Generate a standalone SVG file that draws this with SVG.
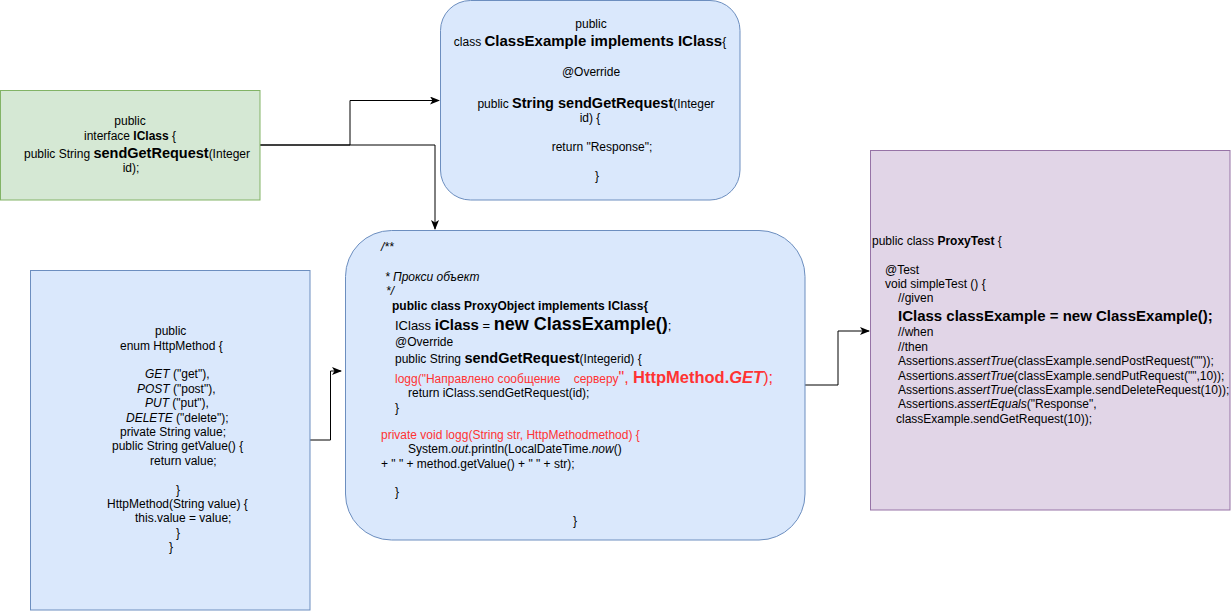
<svg xmlns="http://www.w3.org/2000/svg" width="1232" height="611" viewBox="0 0 1232 611">
<style>
text{font-family:"Liberation Sans",Arial,Helvetica,sans-serif;font-size:12px;fill:#000;white-space:pre}
.m{text-anchor:middle}
.b{font-weight:bold}
.i{font-style:italic}
.r{fill:#FF3333}
.line{fill:none;stroke:#000;stroke-width:1}
</style>
<defs>
<marker id="arr" viewBox="0 0 10 8" refX="9" refY="4" markerWidth="10" markerHeight="8" markerUnits="userSpaceOnUse" orient="auto">
<path d="M0,0 L10,4 L0,8 L2.5,4 z" fill="#000"/>
</marker>
</defs>
<rect width="1232" height="611" fill="#fff"/>
<g id="connectors">
<polyline class="line" points="260,145 350,145 350,100.5 439,100.5" marker-end="url(#arr)"/>
<polyline class="line" points="260,145 435,145 435,229" marker-end="url(#arr)"/>
<polyline class="line" points="310,440 330.5,440 330.5,371 341,371" marker-end="url(#arr)"/>
<polyline class="line" points="805,385 838,385 838,331 869,331" marker-end="url(#arr)"/>
</g>
<g id="iclass">
<rect x="0.5" y="90.5" width="259.5" height="109.5" fill="#d5e8d4" stroke="#82b366"/>
<text class="m" x="130" y="125">public</text>
<text class="m" x="130" y="140">interface <tspan class="b">IClass</tspan> {</text>
<text class="m" x="137" y="158">public String <tspan class="b" style="font-size:14.5px">sendGetRequest</tspan>(Integer</text>
<text class="m" x="131" y="172">id);</text>
</g>
<g id="classexample">
<rect x="440.5" y="0.5" width="299.5" height="199.5" rx="30" ry="30" fill="#dae8fc" stroke="#6c8ebf"/>
<text class="m" x="591" y="28">public</text>
<text class="m" x="590" y="46">class <tspan class="b" style="font-size:15px">ClassExample implements IClass</tspan>{</text>
<text class="m" x="591" y="76">@Override</text>
<text class="m" x="596" y="108">public <tspan class="b" style="font-size:14.5px">String sendGetRequest</tspan>(Integer</text>
<text class="m" x="590" y="122">id) {</text>
<text class="m" x="602" y="151">return "Response";</text>
<text class="m" x="597" y="180">}</text>
</g>
<g id="httpmethod">
<rect x="30.5" y="270.5" width="279.5" height="339.5" fill="#dae8fc" stroke="#6c8ebf"/>
<text x="155" y="335">public</text>
<text x="120" y="349.5">enum HttpMethod {</text>
<text x="145" y="378"><tspan class="i">GET</tspan> ("get"),</text>
<text x="137" y="392.5"><tspan class="i">POST</tspan> ("post"),</text>
<text x="145" y="407"><tspan class="i">PUT</tspan> ("put"),</text>
<text x="126" y="421.5"><tspan class="i">DELETE</tspan> ("delete");</text>
<text x="120" y="436">private String value;</text>
<text x="112" y="450">public String getValue() {</text>
<text x="150" y="464.5">return value;</text>
<text x="176" y="493.5">}</text>
<text x="107" y="508">HttpMethod(String value) {</text>
<text x="135" y="522">this.value = value;</text>
<text x="176" y="536.5">}</text>
<text x="169" y="551">}</text>
</g>
<g id="proxyobject">
<rect x="345.5" y="230.5" width="459.5" height="309.5" rx="46" ry="46" fill="#dae8fc" stroke="#6c8ebf"/>
<text class="i" x="381" y="251">/**</text>
<text class="i" x="385" y="281">* Прокси объект</text>
<text class="i" x="386" y="295">*/</text>
<text class="b" x="392" y="310">public class ProxyObject implements IClass{</text>
<text x="395" y="330" style="font-size:13px">IClass <tspan class="b" style="font-size:15px">iClass</tspan> = <tspan class="b" style="font-size:18px">new ClassExample()</tspan>;</text>
<text x="395" y="346">@Override</text>
<text x="395" y="363">public String <tspan class="b" style="font-size:14.5px">sendGetRequest</tspan>(Integerid) {</text>
<text class="r" x="395" y="383">logg("Направлено сообщение    серверу<tspan style="font-size:16px">", </tspan><tspan class="b" style="font-size:16.5px">HttpMethod.<tspan class="i">GET</tspan></tspan><tspan style="font-size:16px">);</tspan></text>
<text x="408" y="397">return iClass.sendGetRequest(id);</text>
<text x="395" y="412">}</text>
<text class="r" x="381" y="439">private void logg(String str, HttpMethodmethod) {</text>
<text x="408" y="453">System.<tspan class="i">out</tspan>.println(LocalDateTime.<tspan class="i">now</tspan>()</text>
<text x="381" y="468">+ " " + method.getValue() + " " + str);</text>
<text x="395" y="496">}</text>
<text x="573" y="525">}</text>
</g>
<g id="proxytest">
<rect x="870.5" y="150.5" width="359.5" height="359.5" fill="#e1d5e7" stroke="#9673a6"/>
<text x="872" y="245">public class <tspan class="b">ProxyTest</tspan> {</text>
<text x="885" y="274">@Test</text>
<text x="885" y="288">void simpleTest () {</text>
<text x="898" y="302">//given</text>
<text class="b" x="898" y="321" style="font-size:15px">IClass classExample = new ClassExample();</text>
<text x="898" y="336">//when</text>
<text x="898" y="351">//then</text>
<text x="898" y="365">Assertions.<tspan class="i">assertTrue</tspan>(classExample.sendPostRequest(""));</text>
<text x="898" y="380">Assertions.<tspan class="i">assertTrue</tspan>(classExample.sendPutRequest("",10));</text>
<text x="898" y="394">Assertions.<tspan class="i">assertTrue</tspan>(classExample.sendDeleteRequest(10));</text>
<text x="898" y="408">Assertions.<tspan class="i">assertEquals</tspan>("Response",</text>
<text x="896" y="423">classExample.sendGetRequest(10));</text>
</g>
</svg>
